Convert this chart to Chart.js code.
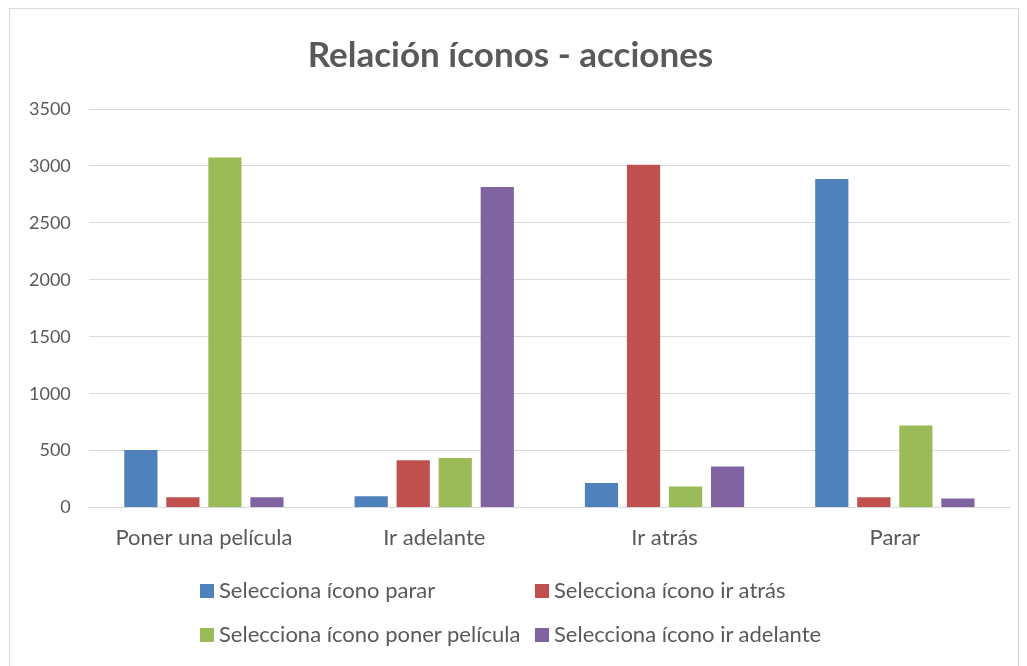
<!DOCTYPE html>
<html>
<head>
<meta charset="utf-8">
<script src="https://cdn.jsdelivr.net/npm/chart.js@4/dist/chart.umd.min.js"></script>
<style>
	html, body { margin: 0; padding: 0; background: #fff; }
	body { width: 1027px; height: 666px; position: relative; overflow: hidden; font-family: Lato, "Noto Sans", sans-serif; }
	#frame { position: absolute; left: 9px; top: 8px; width: 1010px; height: 700px; border: 1px solid #d9d9d9; box-sizing: border-box; }
	#wrap { position: absolute; left: 0; top: 0; width: 1027px; height: 666px; }
	#legend { position: absolute; left: 200px; top: 577px; display: grid; grid-template-columns: 335px 300px; row-gap: 18px; }
	#legend div { font-size: 22px; color: #595959; white-space: nowrap; line-height: 26px; }
	#legend span { display: inline-block; width: 14px; height: 14px; margin-right: 5px; vertical-align: 0px; }
</style>
</head>
<body>
<div id="frame"></div>
<div id="wrap"><canvas id="chart" width="1027" height="666"></canvas></div>
<div id="legend"></div>
<script>
// categories and series
const categories = ['Poner una película', 'Ir adelante', 'Ir atrás', 'Parar'];
const seriesNames = ['Selecciona ícono parar', 'Selecciona ícono ir atrás', 'Selecciona ícono poner película', 'Selecciona ícono ir adelante'];
const iconoParar = [505, 100, 215, 2885];
const iconoAtras = [90, 415, 3010, 90];
const iconoPelicula = [3075, 435, 185, 720];
const iconoAdelante = [90, 2815, 360, 80];
const yTicks = [0, 500, 1000, 1500, 2000, 2500, 3000, 3500];

const colors = ['#4f81bd', '#c0504d', '#9bbb59', '#8064a2'];
const values = [iconoParar, iconoAtras, iconoPelicula, iconoAdelante];

const datasets = seriesNames.map(function(name, i){
	return {
		label: name,
		data: values[i],
		backgroundColor: colors[i],
		borderWidth: 0,
		categoryPercentage: 0.73,
		barPercentage: 0.79
	};
});

/** legend laid out as a 2x2 grid like the original **/
const legendBox = document.getElementById('legend');
seriesNames.forEach(function(name, i){
	const item = document.createElement('div');
	item.innerHTML = '<span style="background:' + colors[i] + '"></span>' + name;
	legendBox.appendChild(item);
});

const textColor = '#595959';
new Chart(document.getElementById('chart'), {
	type: 'bar',
	data: { labels: categories, datasets: datasets },
	options: {
		responsive: false,
		animation: false,
		layout: { padding: { left: 11, right: 17, top: 0, bottom: 98 } },
		plugins: {
			legend: { display: false },
			tooltip: { enabled: false },
			title: {
				display: true,
				text: 'Relación íconos - acciones',
				color: textColor,
				font: { family: 'Lato', size: 35, weight: 'bold' },
				padding: { top: 35, bottom: 32 }
			}
		},
		scales: {
			x: {
				grid: { display: false, drawTicks: false },
				border: { color: '#d9d9d9', width: 1 },
				ticks: { color: textColor, font: { family: 'Lato', size: 22 }, padding: 17 }
			},
			y: {
				min: 0,
				max: 3500,
				afterBuildTicks: function(axis){
					axis.ticks = yTicks.map(function(v){ return { value: v }; });
				},
				grid: { color: '#d9d9d9', lineWidth: 1, drawTicks: false },
				border: { display: false },
				ticks: {
					color: textColor,
					font: { family: 'Lato', size: 18 },
					padding: 18,
					callback: function(v){ return String(v); }
				}
			}
		}
	}
});
</script>
</body>
</html>
